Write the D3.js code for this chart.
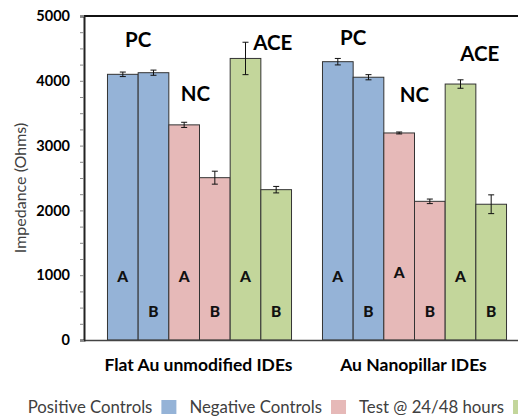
<!DOCTYPE html>
<html><head><meta charset="utf-8">
<script src="https://cdn.jsdelivr.net/npm/d3@7"></script>
<style>body{margin:0;background:#fff}svg{display:block}</style>
</head><body>
<svg id="c" width="518" height="416"></svg>
<script>
// ---- data ----
const groups = ["Flat Au unmodified IDEs", "Au Nanopillar IDEs"];
const series = ["PC-A", "PC-B", "NC-A", "NC-B", "ACE-A", "ACE-B"];
const barLetters = ["A", "B", "A", "B", "A", "B"];
const flatValues = [4100, 4125, 3320, 2505, 4345, 2320];
const flatErrors = [35, 40, 40, 100, 250, 50];
const pillarValues = [4295, 4055, 3195, 2140, 3950, 2095];
const pillarErrors = [50, 40, 15, 35, 65, 145];
const seriesColors = ["#95b3d7", "#95b3d7", "#e6b9b8", "#e6b9b8", "#c3d69b", "#c3d69b"];
const yTicks = [0, 1000, 2000, 3000, 4000, 5000];
const annotLabels = ["PC", "NC", "ACE"];
const flatAnnotLevels = [4525, 3690, 4475];
const pillarAnnotLevels = [4545, 3675, 4305];
const flatLetterLevels = [900, 350, 900, 350, 900, 350];
const pillarLetterLevels = [900, 350, 950, 350, 900, 350];
const legendLabels = ["Positive Controls", "Negative Controls", "Test @ 24/48 hours"];
const legendColors = ["#95b3d7", "#e6b9b8", "#c3d69b"];

const table = groups.map((g, gi) => ({
  group: g,
  values: gi === 0 ? flatValues : pillarValues,
  errors: gi === 0 ? flatErrors : pillarErrors,
  annot: gi === 0 ? flatAnnotLevels : pillarAnnotLevels,
  letters: gi === 0 ? flatLetterLevels : pillarLetterLevels
}));

const svg = d3.select("#c");
const FONT = "Lato, 'Open Sans', sans-serif";
const padL = 84, padT = 16, padB = 340, padR = 530;

const y = d3.scaleLinear().domain([0, 5000]).range([padB, padT]);
const x0 = d3.scaleBand().domain(groups).range([92, 522]).paddingInner(0.144).paddingOuter(0.072);
const x1 = d3.scaleBand().domain(series).range([0, x0.bandwidth()]);

// bars
const g = svg.append("g");
table.forEach(row => {
  const gx = x0(row.group);
  series.forEach((s, i) => {
    const bx = gx + x1(s);
    g.append("rect")
      .attr("x", bx).attr("y", y(row.values[i]))
      .attr("width", x1.bandwidth()).attr("height", y(0) - y(row.values[i]))
      .attr("fill", seriesColors[i]).attr("stroke", "#333").attr("stroke-width", 1);
  });
});

// error bars
table.forEach(row => {
  const gx = x0(row.group);
  series.forEach((s, i) => {
    const cx = gx + x1(s) + x1.bandwidth() / 2;
    const hi = y(row.values[i] + row.errors[i]), lo = y(row.values[i] - row.errors[i]);
    const eg = g.append("g").attr("stroke", "#111").attr("stroke-width", 1);
    eg.append("line").attr("x1", cx).attr("x2", cx).attr("y1", hi).attr("y2", lo);
    eg.append("line").attr("x1", cx - 3).attr("x2", cx + 3).attr("y1", hi).attr("y2", hi);
    eg.append("line").attr("x1", cx - 3).attr("x2", cx + 3).attr("y1", lo).attr("y2", lo);
  });
});

// letters in bars
table.forEach(row => {
  const gx = x0(row.group);
  series.forEach((s, i) => {
    g.append("text")
      .attr("x", gx + x1(s) + x1.bandwidth() / 2)
      .attr("y", y(row.letters[i]))
      .attr("text-anchor", "middle")
      .attr("font-family", FONT).attr("font-weight", 900).attr("font-size", 15.5)
      .attr("fill", "#111").text(barLetters[i]);
  });
});

// annotation labels PC / NC / ACE
const annotDx = [[0, -4, 12], [0, 0, 4]];
table.forEach((row, gi) => {
  const gx = x0(row.group);
  annotLabels.forEach((lab, k) => {
    const cx = gx + x1(series[2 * k + 1]);
    g.append("text")
      .attr("x", cx + annotDx[gi][k]).attr("y", y(row.annot[k]))
      .attr("text-anchor", "middle")
      .attr("font-family", FONT).attr("font-weight", "bold").attr("font-size", 20.5)
      .attr("fill", "#000").text(lab);
  });
});

// frame lines
svg.append("line").attr("x1", padL).attr("x2", padR).attr("y1", padT).attr("y2", padT)
  .attr("stroke", "#111").attr("stroke-width", 2);
svg.append("line").attr("x1", padL).attr("x2", padR).attr("y1", padB + 0.5).attr("y2", padB + 0.5)
  .attr("stroke", "#444").attr("stroke-width", 1.5);

// y axis
const yAxis = d3.axisLeft(y).tickValues(d3.range(0, 5001, 250)).tickSize(4)
  .tickFormat(d => yTicks.includes(d) ? d : "");
const ya = svg.append("g").attr("transform", `translate(${padL},0)`).call(yAxis);
ya.select(".domain").attr("stroke", "#222").attr("stroke-width", 2);
ya.selectAll(".tick line").attr("stroke", "#888");
ya.selectAll(".tick text").attr("x", -14).attr("font-family", FONT).attr("font-weight", "bold")
  .attr("font-size", 14.5).attr("fill", "#000");

// y title
svg.append("text").attr("transform", `translate(26,${(padT + padB) / 2 + 10}) rotate(-90)`)
  .attr("text-anchor", "middle").attr("font-family", FONT).attr("font-size", 16)
  .attr("fill", "#404040").text("Impedance (Ohms)");

// x category labels
groups.forEach(gr => {
  svg.append("text").attr("x", x0(gr) + x0.bandwidth() / 2 - 1).attr("y", 371)
    .attr("text-anchor", "middle").attr("font-family", FONT).attr("font-weight", "bold")
    .attr("font-size", 17.5).attr("fill", "#000").text(gr);
});

// legend
let lx = 27.7;
legendLabels.forEach((lab, i) => {
  const t = svg.append("text").attr("x", lx).attr("y", 413)
    .attr("font-family", FONT).attr("font-size", 16.8).attr("fill", "#404040").text(lab);
  const w = t.node().getComputedTextLength();
  svg.append("rect").attr("x", lx + w + 9).attr("y", 400).attr("width", 15).attr("height", 14)
    .attr("fill", legendColors[i]);
  lx = lx + w + 9 + 15 + 13;
});
</script>
</body></html>
